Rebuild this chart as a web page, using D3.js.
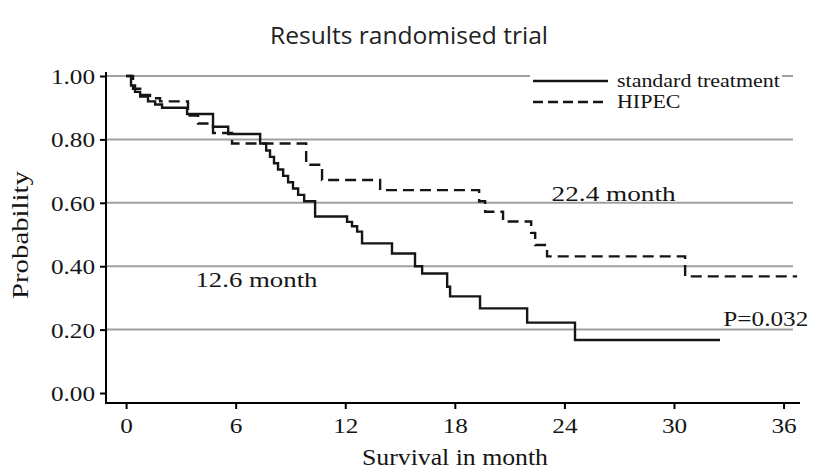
<!DOCTYPE html>
<html>
<head>
<meta charset="utf-8">
<script src="https://cdn.jsdelivr.net/npm/d3@7"></script>
<style>
  html, body { margin: 0; padding: 0; background: #fff; }
  svg { display: block; }
</style>
</head>
<body>
<svg id="chart" width="815" height="470"></svg>
<script>
// ---- Data ----
const xTicks = [0, 6, 12, 18, 24, 30, 36];
const yTicks = [0, 0.2, 0.4, 0.6, 0.8, 1.0];
const gridValues = [0.2, 0.4, 0.6, 0.8, 1.0];

const standardTime = [0, 0.27, 0.49, 0.77, 1.2, 1.59, 1.97, 3.34, 4.76, 5.59, 7.34, 7.67, 7.88, 8.1, 8.32, 8.6, 8.87, 9.14, 9.42, 9.75, 10.35, 12.1, 12.37, 12.65, 12.92, 14.56, 15.82, 16.21, 17.58, 17.74, 19.38, 21.96, 24.58, 32.52];
const standardSurv = [1.0, 0.97, 0.95, 0.935, 0.92, 0.91, 0.90, 0.88, 0.84, 0.817, 0.787, 0.765, 0.745, 0.725, 0.705, 0.685, 0.665, 0.645, 0.625, 0.605, 0.557, 0.54, 0.526, 0.509, 0.472, 0.44, 0.40, 0.377, 0.335, 0.305, 0.267, 0.222, 0.167, 0.167];

const hipecTime = [0, 0.38, 0.77, 1.31, 1.86, 3.39, 3.94, 4.76, 5.8, 9.86, 10.73, 13.91, 19.33, 19.66, 20.64, 22.18, 22.4, 23.05, 30.61, 36.74];
const hipecSurv = [1.0, 0.96, 0.94, 0.93, 0.92, 0.875, 0.85, 0.82, 0.787, 0.72, 0.672, 0.64, 0.605, 0.572, 0.541, 0.505, 0.467, 0.431, 0.368, 0.368];

const seriesNames = ["standard treatment", "HIPEC"];
const titleText = "Results randomised trial";
const xLabel = "Survival in month";
const yLabel = "Probability";
const annotationTexts = ["22.4 month", "12.6 month", "P=0.032"];
const annotationT = [23.3, 3.8, 32.7];
const annotationP = [0.605, 0.335, 0.21];

// ---- Layout ----
const svg = d3.select("#chart");
const x = d3.scaleLinear().domain([-1.1, 36.9]).range([106, 800]);
const y = d3.scaleLinear().domain([-0.0315, 1.0]).range([403, 76]);
const serif = "'Liberation Serif', 'DejaVu Serif', serif";
const sans = "'Open Sans', 'Noto Sans', sans-serif";
const ink = "#151515";

// widen serif glyphs a bit (reference face is wider than Times)
function widen(sel, k) {
  sel.each(function () {
    const w = this.getComputedTextLength();
    d3.select(this).attr("textLength", w * k).attr("lengthAdjust", "spacingAndGlyphs");
  });
}

// Title
svg.append("text")
  .attr("x", 409).attr("y", 44)
  .attr("text-anchor", "middle")
  .attr("font-family", sans)
  .attr("font-size", 23)
  .attr("fill", "#222")
  .attr("textLength", 278).attr("lengthAdjust", "spacingAndGlyphs")
  .text(titleText);

// Gridlines
svg.append("g").selectAll("line").data(gridValues).join("line")
  .attr("x1", x.range()[0]).attr("x2", 793)
  .attr("y1", d => y(d)).attr("y2", d => y(d))
  .attr("stroke", "#a0a0a0").attr("stroke-width", 2);

// Legend background
svg.append("rect").attr("x", 530).attr("y", 70).attr("width", 252).attr("height", 40).attr("fill", "#fff");

// Y axis
const yAxis = d3.axisLeft(y).tickValues(yTicks).tickFormat(d3.format(".2f")).tickSize(6).tickPadding(5);
const gy = svg.append("g").attr("transform", "translate(106,0)").call(yAxis);
gy.select(".domain").remove();
gy.append("line").attr("x1", 0).attr("x2", 0).attr("y1", y(1.0) - 4).attr("y2", 404)
  .attr("stroke", "#000").attr("stroke-width", 2);
gy.selectAll(".tick line").attr("stroke", "#000").attr("stroke-width", 2);
gy.selectAll(".tick text").attr("font-family", serif).attr("font-size", 21).attr("fill", ink)
  .attr("dy", "0.36em");
widen(gy.selectAll(".tick text"), 1.2);

// X axis
const xAxis = d3.axisBottom(x).tickValues(xTicks).tickSize(6).tickPadding(9);
const gx = svg.append("g").attr("transform", "translate(0,403)").call(xAxis);
gx.select(".domain").remove();
gx.append("line").attr("x1", 105).attr("x2", 800).attr("y1", 0).attr("y2", 0)
  .attr("stroke", "#000").attr("stroke-width", 2);
gx.selectAll(".tick line").attr("stroke", "#000").attr("stroke-width", 2);
gx.selectAll(".tick text").attr("font-family", serif).attr("font-size", 21).attr("fill", ink);
widen(gx.selectAll(".tick text"), 1.2);

// Axis labels
svg.append("text")
  .attr("x", 455).attr("y", 465)
  .attr("text-anchor", "middle")
  .attr("font-family", serif).attr("font-size", 23).attr("fill", ink)
  .attr("textLength", 186).attr("lengthAdjust", "spacingAndGlyphs")
  .text(xLabel);
svg.append("text")
  .attr("transform", "translate(28,235) rotate(-90)")
  .attr("text-anchor", "middle")
  .attr("font-family", serif).attr("font-size", 24).attr("fill", ink)
  .attr("textLength", 128).attr("lengthAdjust", "spacingAndGlyphs")
  .text(yLabel);

// Curves
const line = d3.line().x(d => x(d[0])).y(d => y(d[1])).curve(d3.curveStepAfter);
const stdData = standardTime.map((t, i) => [t, standardSurv[i]]);
const hipData = hipecTime.map((t, i) => [t, hipecSurv[i]]);

svg.append("path").datum(hipData).attr("d", line)
  .attr("fill", "none").attr("stroke", ink).attr("stroke-width", 2.4)
  .attr("stroke-dasharray", "11,6");
svg.append("path").datum(stdData).attr("d", line)
  .attr("fill", "none").attr("stroke", ink).attr("stroke-width", 2.4);

// Legend
const legend = svg.append("g");
legend.append("line").attr("x1", 533).attr("x2", 608).attr("y1", 81).attr("y2", 81)
  .attr("stroke", ink).attr("stroke-width", 2.4);
legend.append("line").attr("x1", 533).attr("x2", 608).attr("y1", 102).attr("y2", 102)
  .attr("stroke", ink).attr("stroke-width", 2.4).attr("stroke-dasharray", "10,5");
const lt = legend.selectAll("text").data(seriesNames).join("text")
  .attr("x", 617).attr("y", (d, i) => 87 + i * 21)
  .attr("font-family", serif).attr("font-size", 18).attr("fill", ink)
  .text(d => d);
widen(lt, 1.22);
svg.append("line").attr("x1", 783).attr("x2", 787).attr("y1", y(1.0)).attr("y2", y(1.0))
  .attr("stroke", "#a0a0a0").attr("stroke-width", 2);

// Annotations
const annotationWidths = [124, 122, 85];
svg.append("g").selectAll("text").data(annotationTexts).join("text")
  .attr("x", (d, i) => x(annotationT[i])).attr("y", (d, i) => y(annotationP[i]))
  .attr("font-family", serif).attr("font-size", 22).attr("fill", ink)
  .attr("textLength", (d, i) => annotationWidths[i]).attr("lengthAdjust", "spacingAndGlyphs")
  .text(d => d);
</script>
</body>
</html>
